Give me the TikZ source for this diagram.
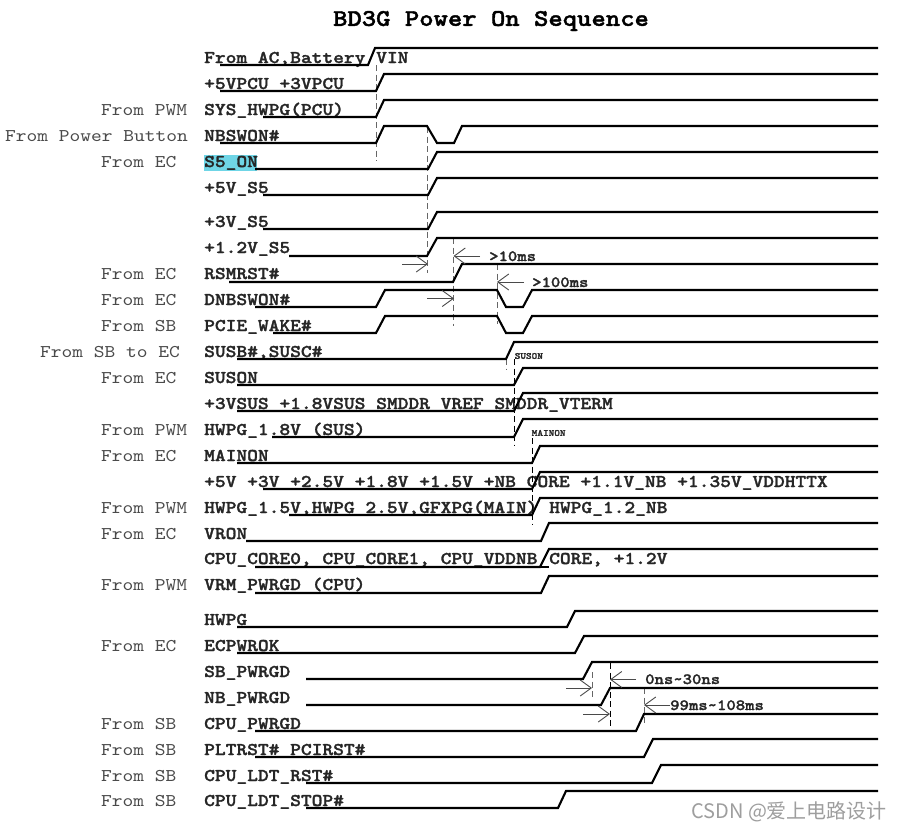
\documentclass[tikz,border=0pt]{standalone}
\usepackage{fontspec}
\setmainfont{lmmono10-regular.otf}[FakeStretch=1.144,BoldFont=lmmonolt10-bold.otf,BoldFeatures={FakeStretch=1.144,FakeBold=1.6}]
\newfontfamily\cjkwm{Noto Sans CJK SC}
\usetikzlibrary{arrows.meta}
\definecolor{hl}{HTML}{6FD5E6}
\definecolor{srcgray}{HTML}{4A4A4A}
\definecolor{dashgray}{HTML}{666666}
\tikzset{
  wave/.style={line width=2.1pt,black,line join=miter},
  guide/.style={line width=0.9pt,dashgray,dash pattern=on 6pt off 3.5pt},
  guideblack/.style={line width=0.9pt,black,dash pattern=on 6pt off 3.5pt},
  timing/.style={line width=0.9pt,srcgray,-{Straight Barb[length=11pt,width=16pt,line width=0.9pt]}},
  sigtext/.style={anchor=base west,inner sep=0pt,font=\fontsize{17.9}{20}\selectfont\bfseries,text=black!85},
  srctext/.style={anchor=base west,inner sep=0pt,font=\fontsize{17.9}{20}\selectfont,text=srcgray},
  timetext/.style={anchor=base west,inner sep=0pt,font=\fontsize{15.6}{18}\selectfont\bfseries,text=black!85},
  tinytext/.style={anchor=west,inner sep=0pt,font=\fontsize{9.4}{10}\selectfont\bfseries,text=black!85},
  titletext/.style={anchor=center,inner sep=0pt,font=\fontsize{23.9}{26}\selectfont\bfseries},
  wmark/.style={anchor=base west,inner sep=0pt,font=\fontsize{20}{22}\selectfont\cjkwm,text=black!38},
}
% low start, low y, rise start, rise end, high y
\newcommand\stepwave[5]{\draw[wave] (#1,#2) -- (#3,#2) -- (#4,#5) -- (878,#5);}
\begin{document}
\begin{tikzpicture}[x=1pt,y=-1pt]
\useasboundingbox (0,0) rectangle (897,830);
\fill[white] (0,0) rectangle (897,830);
\fill[hl] (203.5,155) rectangle (257,171);

\node[titletext] (title) at (491,21) {BD3G Power On Sequence};

% signal names
\node[sigtext] (n1) at (204,63) {From AC,Battery};
\node[sigtext] (n1b) at (376,63) {VIN};
\node[sigtext] (n2) at (204,89) {+5VPCU +3VPCU};
\node[sigtext] (n3) at (204,115) {SYS\_HWPG(PCU)};
\node[sigtext] (n4) at (204,141) {NBSWON\#};
\node[sigtext] (n5) at (204,167) {S5\_ON};
\node[sigtext] (n6) at (204,193) {+5V\_S5};
\node[sigtext] (n7) at (204,227) {+3V\_S5};
\node[sigtext] (n8) at (204,253) {+1.2V\_S5};
\node[sigtext] (n9) at (204,279) {RSMRST\#};
\node[sigtext] (n10) at (204,305) {DNBSWON\#};
\node[sigtext] (n11) at (204,331) {PCIE\_WAKE\#};
\node[sigtext] (n12) at (204,357) {SUSB\#,SUSC\#};
\node[sigtext] (n13) at (204,383) {SUSON};
\node[sigtext] (n14) at (204,409) {+3VSUS +1.8VSUS SMDDR\_VREF SMDDR\_VTERM};
\node[sigtext] (n15) at (204,435) {HWPG\_1.8V (SUS)};
\node[sigtext] (n16) at (204,461) {MAINON};
\node[sigtext] (n17) at (204,487) {+5V +3V +2.5V +1.8V +1.5V +NB\_CORE +1.1V\_NB +1.35V\_VDDHTTX};
\node[sigtext] (n18) at (204,513) {HWPG\_1.5V,HWPG\_2.5V,GFXPG(MAIN)};
\node[sigtext] (n18b) at (549,513) {HWPG\_1.2\_NB};
\node[sigtext] (n19) at (204,539) {VRON};
\node[sigtext] (n20) at (204,564) {CPU\_CORE0, CPU\_CORE1, CPU\_VDDNB};
\node[sigtext] (n20b) at (549,564) {CORE, +1.2V};
\node[sigtext] (n21) at (204,590) {VRM\_PWRGD (CPU)};
\node[sigtext] (n22) at (204,625) {HWPG};
\node[sigtext] (n23) at (204,651) {ECPWROK};
\node[sigtext] (n24) at (204,677) {SB\_PWRGD};
\node[sigtext] (n25) at (204,703) {NB\_PWRGD};
\node[sigtext] (n26) at (204,729) {CPU\_PWRGD};
\node[sigtext] (n27) at (204,755) {PLTRST\# PCIRST\#};
\node[sigtext] (n28) at (204,781) {CPU\_LDT\_RST\#};
\node[sigtext] (n29) at (204,806) {CPU\_LDT\_STOP\#};

% source labels
\node[srctext] (s3) at (101,115) {From PWM};
\node[srctext] (s4) at (5,141) {From Power Button};
\node[srctext] (s5) at (101,167) {From EC};
\node[srctext] (s9) at (101,279) {From EC};
\node[srctext] (s10) at (101,305) {From EC};
\node[srctext] (s11) at (101,331) {From SB};
\node[srctext] (s12) at (40,357) {From SB to EC};
\node[srctext] (s13) at (101,383) {From EC};
\node[srctext] (s15) at (101,435) {From PWM};
\node[srctext] (s16) at (101,461) {From EC};
\node[srctext] (s18) at (101,513) {From PWM};
\node[srctext] (s19) at (101,539) {From EC};
\node[srctext] (s21) at (101,590) {From PWM};
\node[srctext] (s23) at (101,651) {From EC};
\node[srctext] (s26) at (101,729) {From SB};
\node[srctext] (s27) at (101,755) {From SB};
\node[srctext] (s28) at (101,781) {From SB};
\node[srctext] (s29) at (101,806) {From SB};

% timing guides
\draw[guide] (376.5,65) -- (376.5,161);
\draw[guide] (427.5,127) -- (427.5,273);
\draw[guide] (453.5,238) -- (453.5,326);
\draw[guide] (497,264) -- (497,324);
\draw[guide] (506,359) -- (506,369);
\draw[guideblack] (514.5,359) -- (514.5,445);
\draw[guideblack] (532,438) -- (532,524);
\draw[guide] (592,672) -- (592,698);
\draw[guideblack] (610,663) -- (610,727);
\draw[guide] (644,688) -- (644,723);

% waveforms
\stepwave{220}{65}{368}{375}{48}
\stepwave{220}{91}{376}{384}{74}
\stepwave{263}{117}{376}{384}{100}
\draw[wave] (220,143) -- (376,143) -- (384,126) -- (427,126) -- (437,143) -- (454,143) -- (462,126) -- (878,126);
\stepwave{255}{169}{428}{437}{152}
\stepwave{263}{195}{428}{437}{178}
\stepwave{263}{229}{428}{437}{212}
\stepwave{289}{256}{427}{437}{238}
\stepwave{229}{282}{453}{462}{264}
\draw[wave] (255,307) -- (376,307) -- (385,290) -- (497,290) -- (506,307) -- (523,307) -- (532,290) -- (878,290);
\draw[wave] (273,333) -- (376,333) -- (385,316) -- (497,316) -- (506,333) -- (523,333) -- (532,316) -- (878,316);
\stepwave{237}{359}{506}{514}{342}
\stepwave{237}{385}{514}{523}{368}
\stepwave{237}{411}{514}{523}{393}
\stepwave{272}{437}{514}{523}{419}
\stepwave{237}{463}{532}{540}{446}
\stepwave{263}{489}{532}{540}{472}
\stepwave{289}{515}{532}{540}{498}
\stepwave{246}{541}{541}{549}{523}
\stepwave{255}{567}{540}{549}{549}
\draw[wave] (540,567) -- (549,567);
\stepwave{255}{593}{541}{549}{576}
\stepwave{237}{627}{567}{575}{611}
\stepwave{237}{653}{575}{584}{636}
\stepwave{306}{679}{583}{592}{662}
\stepwave{306}{705}{601}{610}{688}
\stepwave{255}{731}{636}{644}{714}
\stepwave{255}{757}{644}{653}{739}
\stepwave{306}{783}{652}{661}{765}
\stepwave{306}{808}{558}{566}{791}

% timing arrows
\draw[timing] (402,264) -- (428,264);
\draw[timing] (480,256) -- (453.5,256);
\draw[timing] (524,282) -- (497,282);
\draw[timing] (427,298.5) -- (454,298.5);
\draw[timing] (566,688) -- (592,688);
\draw[timing] (636,679.5) -- (610,679.5);
\draw[timing] (583,714) -- (610,714);
\draw[timing] (670,705) -- (644,705);

\node[timetext] (t1) at (489,261) {>10ms};
\node[timetext] (t2) at (532,287) {>100ms};
\node[timetext] (t3) at (645,684) {0ns\textasciitilde30ns};
\node[timetext] (t4) at (670,710) {99ms\textasciitilde108ms};
\node[tinytext] (t5) at (514.5,356) {SUSON};
\node[tinytext] (t6) at (531.5,433) {MAINON};

\node[wmark] (wm) at (691,818) {CSDN @爱上电路设计};
\end{tikzpicture}
\end{document}
